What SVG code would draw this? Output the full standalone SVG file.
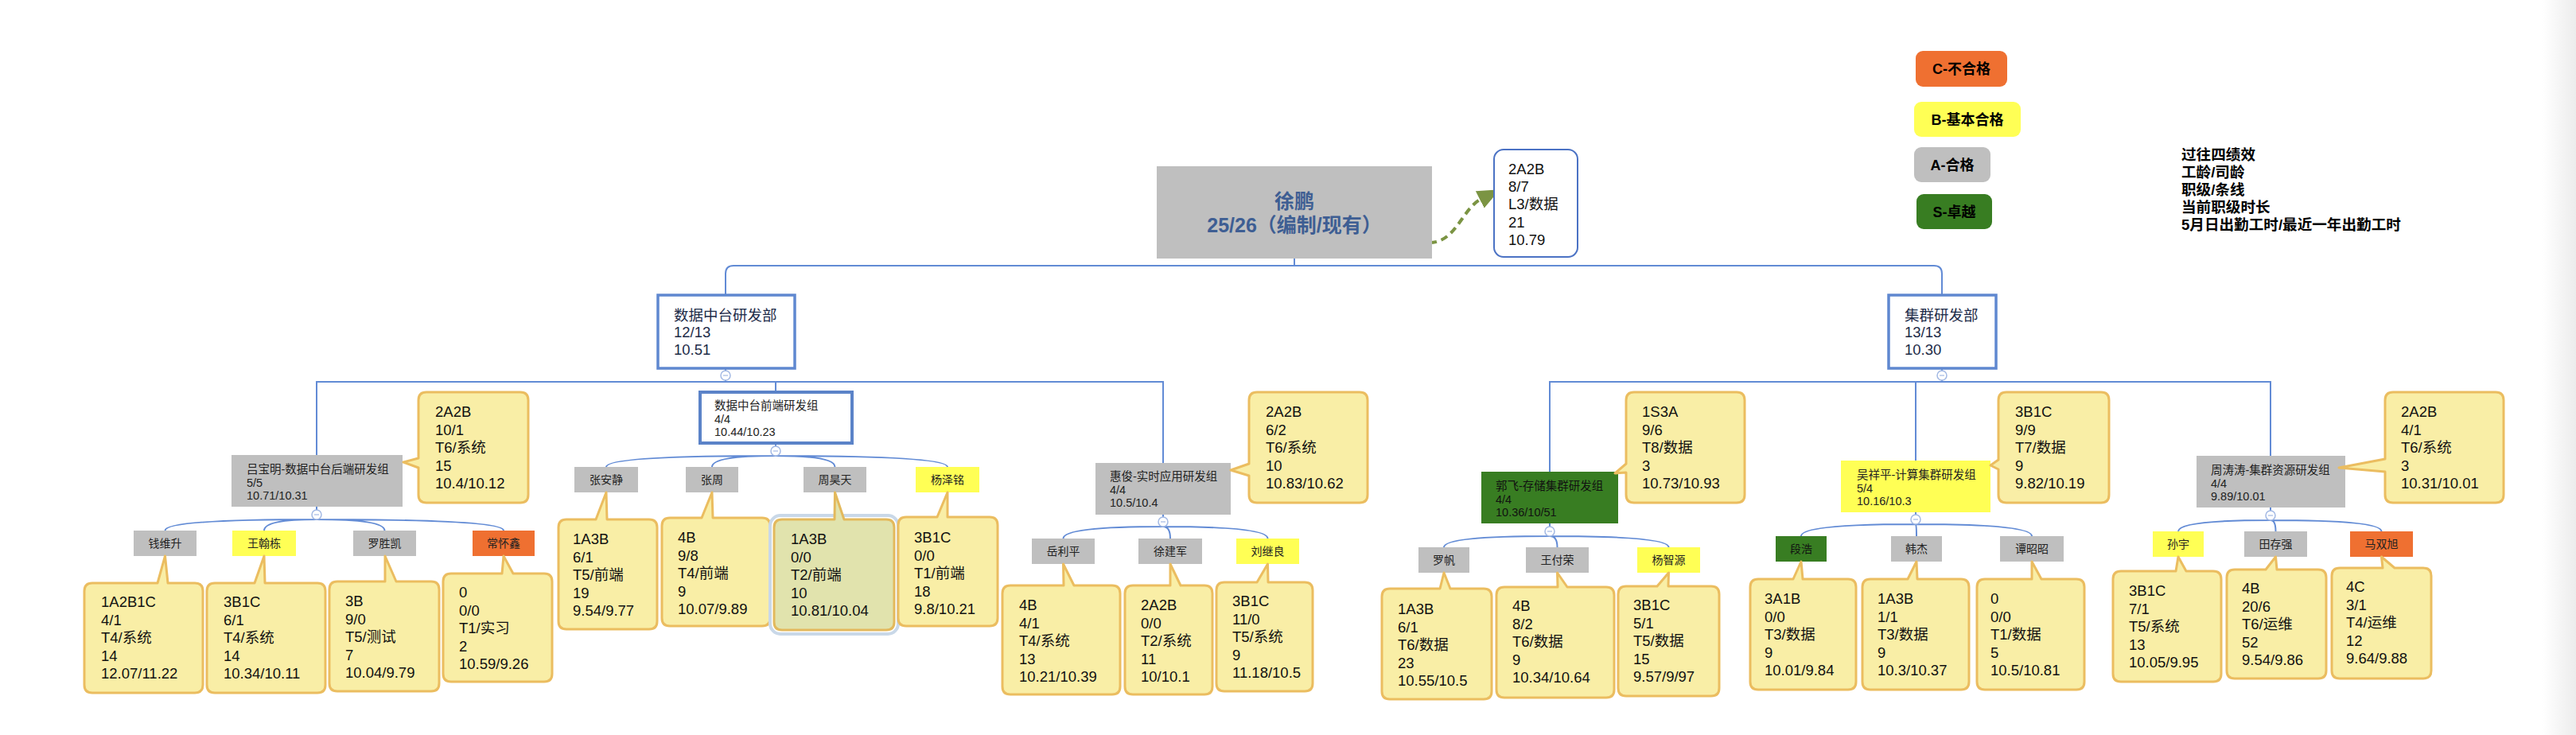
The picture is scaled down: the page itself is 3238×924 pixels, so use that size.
<svg xmlns="http://www.w3.org/2000/svg" width="3238" height="924" viewBox="0 0 3238 924">
<style>
text{font-family:'Liberation Sans','Noto Sans CJK SC',sans-serif}
.note{fill:#f9eea6;stroke:#ebbd60;stroke-width:3;stroke-linejoin:round}
.sel{fill:#e1e3ad;stroke:#e3b95d;stroke-width:3;stroke-linejoin:round}
.nt{font-size:18.5px;fill:#111}
.gt{font-size:14.5px;fill:#222}
.nm{font-size:14px;fill:#222;text-anchor:middle}
.dt{font-size:18.5px;fill:#1d2b48}
.lg{font-size:18.6px;font-weight:bold;fill:#000}
.lgc{font-size:18px;font-weight:bold;fill:#000;text-anchor:middle}
.ln{fill:none;stroke:#628bd5;stroke-width:2}
.cc{fill:#fff;stroke:#a3b9e4;stroke-width:1.5}
.cm{stroke:#a3b9e4;stroke-width:1.2}
.gray{fill:#bfbfbf}.yel{fill:#ffff55}.org{fill:#ef7031}.grn{fill:#387d22}
.dept{fill:#fff;stroke:#5f88d0;stroke-width:3.5}
</style>
<defs>
<linearGradient id="edge" x1="0" x2="1" y1="0" y2="0"><stop offset="0" stop-color="#ffffff"/><stop offset="1" stop-color="#ececec"/></linearGradient>
<marker id="ah" markerUnits="userSpaceOnUse" markerWidth="28" markerHeight="24" viewBox="0 0 28 24" refX="2" refY="12" orient="auto"><path d="M0,0 L28,12 L0,24 z" fill="#7b9443"/></marker>
</defs>
<rect x="0" y="0" width="3238" height="924" fill="#fff"/>
<rect x="3196" y="0" width="42" height="924" fill="url(#edge)"/>

<g id="connectors">
<path class="ln" d="M1627,325 L1627,334 M912,371 L912,344 Q912,334 922,334 L2431,334 Q2441,334 2441,344 L2441,371"/>
<path class="ln" d="M912,463 L912,480 M398,572 L398,480 L1462,480 L1462,582 M975,480 L975,493"/>
<path class="ln" d="M2441,463 L2441,480 M1948,593 L1948,480 L2854,480 L2854,573 M2408,480 L2408,579"/>
<path class="ln" d="M398,637 L398,653 M398,653 Q207.5,653 207.5,667 M398,653 Q332,653 332,667 M398,653 Q483.5,653 483.5,667 M398,653 Q633,653 633,667"/>
<path class="ln" d="M975,557 L975,573 M975,573 Q762,573 762,587 M975,573 Q895,573 895,587 M975,573 Q1049.5,573 1049.5,587 M975,573 Q1191,573 1191,587"/>
<path class="ln" d="M1462,647 L1462,662 M1462,662 Q1336.5,662 1336.5,677 M1462,662 Q1471,662 1471,677 M1462,662 Q1593.5,662 1593.5,677"/>
<path class="ln" d="M1948,658 L1948,674 M1948,674 Q1815,674 1815,688 M1948,674 Q1957.5,674 1957.5,688 M1948,674 Q2097.5,674 2097.5,688"/>
<path class="ln" d="M2408,644 L2408,659 M2408,659 Q2264,659 2264,674 M2408,659 Q2409,659 2409,674 M2408,659 Q2554,659 2554,674"/>
<path class="ln" d="M2854,638 L2854,654 M2854,654 Q2738,654 2738,668 M2854,654 Q2860.5,654 2860.5,668 M2854,654 Q2993.5,654 2993.5,668"/>
<path d="M1797,305 C1830,305 1838,262 1862,250" fill="none" stroke="#7b9443" stroke-width="4" stroke-dasharray="9 6" marker-end="url(#ah)"/>
<g id="collapse">
<circle class="cc" cx="912" cy="472" r="6"/><line class="cm" x1="909" y1="472" x2="915" y2="472"/>
<circle class="cc" cx="2441" cy="472" r="6"/><line class="cm" x1="2438" y1="472" x2="2444" y2="472"/>
<circle class="cc" cx="398" cy="647" r="6"/><line class="cm" x1="395" y1="647" x2="401" y2="647"/>
<circle class="cc" cx="975" cy="567" r="6"/><line class="cm" x1="972" y1="567" x2="978" y2="567"/>
<circle class="cc" cx="1462" cy="656" r="6"/><line class="cm" x1="1459" y1="656" x2="1465" y2="656"/>
<circle class="cc" cx="1948" cy="668" r="6"/><line class="cm" x1="1945" y1="668" x2="1951" y2="668"/>
<circle class="cc" cx="2408" cy="653" r="6"/><line class="cm" x1="2405" y1="653" x2="2411" y2="653"/>
<circle class="cc" cx="2854" cy="648" r="6"/><line class="cm" x1="2851" y1="648" x2="2857" y2="648"/>
</g>
</g>

<g id="legend">
<rect x="2408" y="64" width="115" height="45" rx="9" class="org"/><text class="lgc" x="2465.5" y="93">C-不合格</text>
<rect x="2406" y="128" width="134" height="44" rx="9" class="yel"/><text class="lgc" x="2473" y="157">B-基本合格</text>
<rect x="2406" y="185" width="96" height="44" rx="9" class="gray"/><text class="lgc" x="2454" y="214">A-合格</text>
<rect x="2409" y="244" width="95" height="44" rx="9" class="grn"/><text class="lgc" x="2456.5" y="273">S-卓越</text>
<text class="lg"><tspan x="2742" y="201">过往四绩效</tspan><tspan x="2742" y="223">工龄/司龄</tspan><tspan x="2742" y="245">职级/条线</tspan><tspan x="2742" y="267">当前职级时长</tspan><tspan x="2742" y="289">5月日出勤工时/最近一年出勤工时</tspan></text>
</g>

<g id="root">
<rect x="1454" y="209" width="346" height="116" class="gray"/>
<text x="1627" y="262" text-anchor="middle" font-size="25" font-weight="bold" fill="#3e5e93">徐鹏</text>
<text x="1627" y="292" text-anchor="middle" font-size="25" font-weight="bold" fill="#3e5e93">25/26（编制/现有）</text>
</g>
<g id="root-note">
<rect x="1878" y="188" width="105" height="135" rx="12" fill="#fff" stroke="#4b72c4" stroke-width="2"/>
<text class="nt"><tspan x="1896" y="219">2A2B</tspan><tspan x="1896" y="241">8/7</tspan><tspan x="1896" y="263">L3/数据</tspan><tspan x="1896" y="286">21</tspan><tspan x="1896" y="308">10.79</tspan></text>
</g>

<g id="dept-data">
<rect x="827" y="371" width="172" height="92" class="dept"/>
<text class="dt"><tspan x="847" y="403">数据中台研发部</tspan><tspan x="847" y="424">12/13</tspan><tspan x="847" y="446">10.51</tspan></text>
</g>
<g id="dept-cluster">
<rect x="2374" y="371" width="135" height="92" class="dept"/>
<text class="dt"><tspan x="2394" y="403">集群研发部</tspan><tspan x="2394" y="424">13/13</tspan><tspan x="2394" y="446">10.30</tspan></text>
</g>

<g id="group-lv">
<rect x="291" y="572" width="215" height="65" class="gray"/>
<text class="gt"><tspan x="310" y="595">吕宝明-数据中台后端研发组</tspan><tspan x="310" y="611.5">5/5</tspan><tspan x="310" y="628">10.71/10.31</tspan></text>
<path class="note" d="M536,493 L654,493 Q664,493 664,503 L664,622 Q664,632 654,632 L536,632 Q526,632 526,622 L526,588 L507,581 L526,576 L526,503 Q526,493 536,493 Z"/>
<text class="nt"><tspan x="547" y="524">2A2B</tspan><tspan x="547" y="546.5">10/1</tspan><tspan x="547" y="569">T6/系统</tspan><tspan x="547" y="591.5">15</tspan><tspan x="547" y="614">10.4/10.12</tspan></text>
</g>
<g id="group-fe">
<rect x="880" y="493" width="191" height="64" fill="#fff" stroke="#5b83c8" stroke-width="4"/>
<text class="gt"><tspan x="898" y="515">数据中台前端研发组</tspan><tspan x="898" y="532">4/4</tspan><tspan x="898" y="548">10.44/10.23</tspan></text>
</g>
<g id="group-hj">
<rect x="1377" y="582" width="170" height="65" class="gray"/>
<text class="gt"><tspan x="1395" y="604">惠俊-实时应用研发组</tspan><tspan x="1395" y="620.5">4/4</tspan><tspan x="1395" y="637">10.5/10.4</tspan></text>
<path class="note" d="M1580,493 L1709,493 Q1719,493 1719,503 L1719,622 Q1719,632 1709,632 L1580,632 Q1570,632 1570,622 L1570,598 L1547,591 L1570,583 L1570,503 Q1570,493 1580,493 Z"/>
<text class="nt"><tspan x="1591" y="524">2A2B</tspan><tspan x="1591" y="546.5">6/2</tspan><tspan x="1591" y="569">T6/系统</tspan><tspan x="1591" y="591.5">10</tspan><tspan x="1591" y="614">10.83/10.62</tspan></text>
</g>
<g id="group-gf">
<rect x="1862" y="593" width="172" height="65" class="grn"/>
<text class="gt" style="fill:#111"><tspan x="1880" y="616">郭飞-存储集群研发组</tspan><tspan x="1880" y="632.5">4/4</tspan><tspan x="1880" y="649">10.36/10/51</tspan></text>
<path class="note" d="M2054,493 L2183,493 Q2193,493 2193,503 L2193,622 Q2193,632 2183,632 L2054,632 Q2044,632 2044,622 L2044,594 L2030,595 L2044,583 L2044,503 Q2044,493 2054,493 Z"/>
<text class="nt"><tspan x="2064" y="524">1S3A</tspan><tspan x="2064" y="546.5">9/6</tspan><tspan x="2064" y="569">T8/数据</tspan><tspan x="2064" y="591.5">3</tspan><tspan x="2064" y="614">10.73/10.93</tspan></text>
</g>
<g id="group-wxp">
<rect x="2314" y="579" width="188" height="65" class="yel"/>
<text class="gt"><tspan x="2334" y="602">吴祥平-计算集群研发组</tspan><tspan x="2334" y="618.5">5/4</tspan><tspan x="2334" y="635">10.16/10.3</tspan></text>
<path class="note" d="M2522,493 L2641,493 Q2651,493 2651,503 L2651,622 Q2651,632 2641,632 L2522,632 Q2512,632 2512,622 L2512,590 L2502,585 L2512,578 L2512,503 Q2512,493 2522,493 Z"/>
<text class="nt"><tspan x="2533" y="524">3B1C</tspan><tspan x="2533" y="546.5">9/9</tspan><tspan x="2533" y="569">T7/数据</tspan><tspan x="2533" y="591.5">9</tspan><tspan x="2533" y="614">9.82/10.19</tspan></text>
</g>
<g id="group-ztt">
<rect x="2761" y="573" width="187" height="65" class="gray"/>
<text class="gt"><tspan x="2779" y="596">周涛涛-集群资源研发组</tspan><tspan x="2779" y="612.5">4/4</tspan><tspan x="2779" y="629">9.89/10.01</tspan></text>
<path class="note" d="M3008,493 L3137,493 Q3147,493 3147,503 L3147,622 Q3147,632 3137,632 L3008,632 Q2998,632 2998,622 L2998,593 L2940,588 L2998,577 L2998,503 Q2998,493 3008,493 Z"/>
<text class="nt"><tspan x="3018" y="524">2A2B</tspan><tspan x="3018" y="546.5">4/1</tspan><tspan x="3018" y="569">T6/系统</tspan><tspan x="3018" y="591.5">3</tspan><tspan x="3018" y="614">10.31/10.01</tspan></text>
</g>

<g id="p-qws">
<rect x="168" y="667" width="79" height="32" class="gray"/><text class="nm" x="207.5" y="688">钱维升</text>
<path class="note" d="M116,733 L198,733 L207.5,699 L211,733 L245,733 Q255,733 255,743 L255,861 Q255,871 245,871 L116,871 Q106,871 106,861 L106,743 Q106,733 116,733 Z"/>
<text class="nt"><tspan x="127" y="763">1A2B1C</tspan><tspan x="127" y="785.5">4/1</tspan><tspan x="127" y="808">T4/系统</tspan><tspan x="127" y="830.5">14</tspan><tspan x="127" y="853">12.07/11.22</tspan></text>
</g>
<g id="p-whd">
<rect x="292" y="667" width="80" height="32" class="yel"/><text class="nm" x="332" y="688">王翰栋</text>
<path class="note" d="M270,733 L320,733 L332,699 L333,733 L399,733 Q409,733 409,743 L409,861 Q409,871 399,871 L270,871 Q260,871 260,861 L260,743 Q260,733 270,733 Z"/>
<text class="nt"><tspan x="281" y="763">3B1C</tspan><tspan x="281" y="785.5">6/1</tspan><tspan x="281" y="808">T4/系统</tspan><tspan x="281" y="830.5">14</tspan><tspan x="281" y="853">10.34/10.11</tspan></text>
</g>
<g id="p-lsk">
<rect x="444" y="667" width="79" height="32" class="gray"/><text class="nm" x="483.5" y="688">罗胜凯</text>
<path class="note" d="M424,731 L484,731 L484,699 L498,731 L542,731 Q552,731 552,741 L552,859 Q552,869 542,869 L424,869 Q414,869 414,859 L414,741 Q414,731 424,731 Z"/>
<text class="nt"><tspan x="434" y="762">3B</tspan><tspan x="434" y="784.5">9/0</tspan><tspan x="434" y="807">T5/测试</tspan><tspan x="434" y="829.5">7</tspan><tspan x="434" y="852">10.04/9.79</tspan></text>
</g>
<g id="p-chx">
<rect x="594" y="667" width="78" height="32" class="org"/><text class="nm" x="633" y="688">常怀鑫</text>
<path class="note" d="M567,721 L631,721 L633,699 L645,721 L684,721 Q694,721 694,731 L694,847 Q694,857 684,857 L567,857 Q557,857 557,847 L557,731 Q557,721 567,721 Z"/>
<text class="nt"><tspan x="577" y="751">0</tspan><tspan x="577" y="773.5">0/0</tspan><tspan x="577" y="796">T1/实习</tspan><tspan x="577" y="818.5">2</tspan><tspan x="577" y="841">10.59/9.26</tspan></text>
</g>
<g id="p-zaj">
<rect x="722" y="587" width="80" height="32" class="gray"/><text class="nm" x="762" y="608">张安静</text>
<path class="note" d="M712,653 L749,653 L762,619 L763,653 L816,653 Q826,653 826,663 L826,781 Q826,791 816,791 L712,791 Q702,791 702,781 L702,663 Q702,653 712,653 Z"/>
<text class="nt"><tspan x="720" y="684">1A3B</tspan><tspan x="720" y="706.5">6/1</tspan><tspan x="720" y="729">T5/前端</tspan><tspan x="720" y="751.5">19</tspan><tspan x="720" y="774">9.54/9.77</tspan></text>
</g>
<g id="p-zz">
<rect x="862" y="587" width="66" height="32" class="gray"/><text class="nm" x="895" y="608">张周</text>
<path class="note" d="M842,651 L882,651 L895,619 L896,651 L958,651 Q968,651 968,661 L968,777 Q968,787 958,787 L842,787 Q832,787 832,777 L832,661 Q832,651 842,651 Z"/>
<text class="nt"><tspan x="852" y="682">4B</tspan><tspan x="852" y="704.5">9/8</tspan><tspan x="852" y="727">T4/前端</tspan><tspan x="852" y="749.5">9</tspan><tspan x="852" y="772">10.07/9.89</tspan></text>
</g>
<g id="p-zht">
<rect x="1010" y="587" width="79" height="32" class="gray"/><text class="nm" x="1049.5" y="608">周昊天</text>
<rect x="968" y="648" width="161" height="149" rx="13" fill="none" stroke="#c9d8e8" stroke-width="4"/>
<path class="sel" d="M983,653 L1049,653 L1049.5,619 L1061,653 L1114,653 Q1124,653 1124,663 L1124,782 Q1124,792 1114,792 L983,792 Q973,792 973,782 L973,663 Q973,653 983,653 Z"/>
<text class="nt"><tspan x="994" y="684">1A3B</tspan><tspan x="994" y="706.5">0/0</tspan><tspan x="994" y="729">T2/前端</tspan><tspan x="994" y="751.5">10</tspan><tspan x="994" y="774">10.81/10.04</tspan></text>
</g>
<g id="p-yzm">
<rect x="1151" y="587" width="80" height="32" class="yel"/><text class="nm" x="1191" y="608">杨泽铭</text>
<path class="note" d="M1139,650 L1178,650 L1191,619 L1191,650 L1244,650 Q1254,650 1254,660 L1254,777 Q1254,787 1244,787 L1139,787 Q1129,787 1129,777 L1129,660 Q1129,650 1139,650 Z"/>
<text class="nt"><tspan x="1149" y="682">3B1C</tspan><tspan x="1149" y="704.5">0/0</tspan><tspan x="1149" y="727">T1/前端</tspan><tspan x="1149" y="749.5">18</tspan><tspan x="1149" y="772">9.8/10.21</tspan></text>
</g>
<g id="p-ylp">
<rect x="1297" y="677" width="79" height="32" class="gray"/><text class="nm" x="1336.5" y="698">岳利平</text>
<path class="note" d="M1270,736 L1337,736 L1336.5,709 L1350,736 L1398,736 Q1408,736 1408,746 L1408,863 Q1408,873 1398,873 L1270,873 Q1260,873 1260,863 L1260,746 Q1260,736 1270,736 Z"/>
<text class="nt"><tspan x="1281" y="767">4B</tspan><tspan x="1281" y="789.5">4/1</tspan><tspan x="1281" y="812">T4/系统</tspan><tspan x="1281" y="834.5">13</tspan><tspan x="1281" y="857">10.21/10.39</tspan></text>
</g>
<g id="p-xjj">
<rect x="1431" y="677" width="80" height="32" class="gray"/><text class="nm" x="1471" y="698">徐建军</text>
<path class="note" d="M1424,736 L1471,736 L1471,709 L1484,736 L1514,736 Q1524,736 1524,746 L1524,863 Q1524,873 1514,873 L1424,873 Q1414,873 1414,863 L1414,746 Q1414,736 1424,736 Z"/>
<text class="nt"><tspan x="1434" y="767">2A2B</tspan><tspan x="1434" y="789.5">0/0</tspan><tspan x="1434" y="812">T2/系统</tspan><tspan x="1434" y="834.5">11</tspan><tspan x="1434" y="857">10/10.1</tspan></text>
</g>
<g id="p-ljl">
<rect x="1554" y="677" width="79" height="32" class="yel"/><text class="nm" x="1593.5" y="698">刘继良</text>
<path class="note" d="M1539,732 L1580,732 L1593.5,709 L1594,732 L1640,732 Q1650,732 1650,742 L1650,859 Q1650,869 1640,869 L1539,869 Q1529,869 1529,859 L1529,742 Q1529,732 1539,732 Z"/>
<text class="nt"><tspan x="1549" y="762">3B1C</tspan><tspan x="1549" y="784.5">11/0</tspan><tspan x="1549" y="807">T5/系统</tspan><tspan x="1549" y="829.5">9</tspan><tspan x="1549" y="852">11.18/10.5</tspan></text>
</g>
<g id="p-lf">
<rect x="1783" y="688" width="64" height="32" class="gray"/><text class="nm" x="1815" y="709">罗帆</text>
<path class="note" d="M1747,740 L1810,740 L1815,720 L1823,740 L1865,740 Q1875,740 1875,750 L1875,869 Q1875,879 1865,879 L1747,879 Q1737,879 1737,869 L1737,750 Q1737,740 1747,740 Z"/>
<text class="nt"><tspan x="1757" y="772">1A3B</tspan><tspan x="1757" y="794.5">6/1</tspan><tspan x="1757" y="817">T6/数据</tspan><tspan x="1757" y="839.5">23</tspan><tspan x="1757" y="862">10.55/10.5</tspan></text>
</g>
<g id="p-wfr">
<rect x="1918" y="688" width="79" height="32" class="gray"/><text class="nm" x="1957.5" y="709">王付荣</text>
<path class="note" d="M1891,738 L1958,738 L1957.5,720 L1970,738 L2019,738 Q2029,738 2029,748 L2029,867 Q2029,877 2019,877 L1891,877 Q1881,877 1881,867 L1881,748 Q1881,738 1891,738 Z"/>
<text class="nt"><tspan x="1901" y="768">4B</tspan><tspan x="1901" y="790.5">8/2</tspan><tspan x="1901" y="813">T6/数据</tspan><tspan x="1901" y="835.5">9</tspan><tspan x="1901" y="858">10.34/10.64</tspan></text>
</g>
<g id="p-yzy">
<rect x="2058" y="688" width="79" height="32" class="yel"/><text class="nm" x="2097.5" y="709">杨智源</text>
<path class="note" d="M2044,737 L2083,737 L2097.5,720 L2097,737 L2151,737 Q2161,737 2161,747 L2161,865 Q2161,875 2151,875 L2044,875 Q2034,875 2034,865 L2034,747 Q2034,737 2044,737 Z"/>
<text class="nt"><tspan x="2053" y="767">3B1C</tspan><tspan x="2053" y="789.5">5/1</tspan><tspan x="2053" y="812">T5/数据</tspan><tspan x="2053" y="834.5">15</tspan><tspan x="2053" y="857">9.57/9/97</tspan></text>
</g>
<g id="p-dh">
<rect x="2232" y="674" width="64" height="32" class="grn"/><text class="nm" x="2264" y="695" style="fill:#111">段浩</text>
<path class="note" d="M2210,728 L2254,728 L2264,706 L2266,728 L2323,728 Q2333,728 2333,738 L2333,857 Q2333,867 2323,867 L2210,867 Q2200,867 2200,857 L2200,738 Q2200,728 2210,728 Z"/>
<text class="nt"><tspan x="2218" y="759">3A1B</tspan><tspan x="2218" y="781.5">0/0</tspan><tspan x="2218" y="804">T3/数据</tspan><tspan x="2218" y="826.5">9</tspan><tspan x="2218" y="849">10.01/9.84</tspan></text>
</g>
<g id="p-hj">
<rect x="2377" y="674" width="64" height="32" class="gray"/><text class="nm" x="2409" y="695">韩杰</text>
<path class="note" d="M2351,728 L2398,728 L2409,706 L2410,728 L2465,728 Q2475,728 2475,738 L2475,857 Q2475,867 2465,867 L2351,867 Q2341,867 2341,857 L2341,738 Q2341,728 2351,728 Z"/>
<text class="nt"><tspan x="2360" y="759">1A3B</tspan><tspan x="2360" y="781.5">1/1</tspan><tspan x="2360" y="804">T3/数据</tspan><tspan x="2360" y="826.5">9</tspan><tspan x="2360" y="849">10.3/10.37</tspan></text>
</g>
<g id="p-tzz">
<rect x="2514" y="674" width="80" height="32" class="gray"/><text class="nm" x="2554" y="695">谭昭昭</text>
<path class="note" d="M2495,728 L2554,728 L2554,706 L2566,728 L2610,728 Q2620,728 2620,738 L2620,857 Q2620,867 2610,867 L2495,867 Q2485,867 2485,857 L2485,738 Q2485,728 2495,728 Z"/>
<text class="nt"><tspan x="2502" y="759">0</tspan><tspan x="2502" y="781.5">0/0</tspan><tspan x="2502" y="804">T1/数据</tspan><tspan x="2502" y="826.5">5</tspan><tspan x="2502" y="849">10.5/10.81</tspan></text>
</g>
<g id="p-sy">
<rect x="2706" y="668" width="64" height="32" class="yel"/><text class="nm" x="2738" y="689">孙宇</text>
<path class="note" d="M2666,718 L2735,718 L2738,700 L2748,718 L2782,718 Q2792,718 2792,728 L2792,847 Q2792,857 2782,857 L2666,857 Q2656,857 2656,847 L2656,728 Q2656,718 2666,718 Z"/>
<text class="nt"><tspan x="2676" y="749">3B1C</tspan><tspan x="2676" y="771.5">7/1</tspan><tspan x="2676" y="794">T5/系统</tspan><tspan x="2676" y="816.5">13</tspan><tspan x="2676" y="839">10.05/9.95</tspan></text>
</g>
<g id="p-tcq">
<rect x="2821" y="668" width="79" height="32" class="gray"/><text class="nm" x="2860.5" y="689">田存强</text>
<path class="note" d="M2809,716 L2848,716 L2860.5,700 L2862,716 L2914,716 Q2924,716 2924,726 L2924,843 Q2924,853 2914,853 L2809,853 Q2799,853 2799,843 L2799,726 Q2799,716 2809,716 Z"/>
<text class="nt"><tspan x="2818" y="746">4B</tspan><tspan x="2818" y="768.5">20/6</tspan><tspan x="2818" y="791">T6/运维</tspan><tspan x="2818" y="813.5">52</tspan><tspan x="2818" y="836">9.54/9.86</tspan></text>
</g>
<g id="p-msx">
<rect x="2954" y="668" width="79" height="32" class="org"/><text class="nm" x="2993.5" y="689">马双旭</text>
<path class="note" d="M2941,714 L2995,714 L2993.5,700 L3010,714 L3046,714 Q3056,714 3056,724 L3056,843 Q3056,853 3046,853 L2941,853 Q2931,853 2931,843 L2931,724 Q2931,714 2941,714 Z"/>
<text class="nt"><tspan x="2949" y="744">4C</tspan><tspan x="2949" y="766.5">3/1</tspan><tspan x="2949" y="789">T4/运维</tspan><tspan x="2949" y="811.5">12</tspan><tspan x="2949" y="834">9.64/9.88</tspan></text>
</g>
</svg>
